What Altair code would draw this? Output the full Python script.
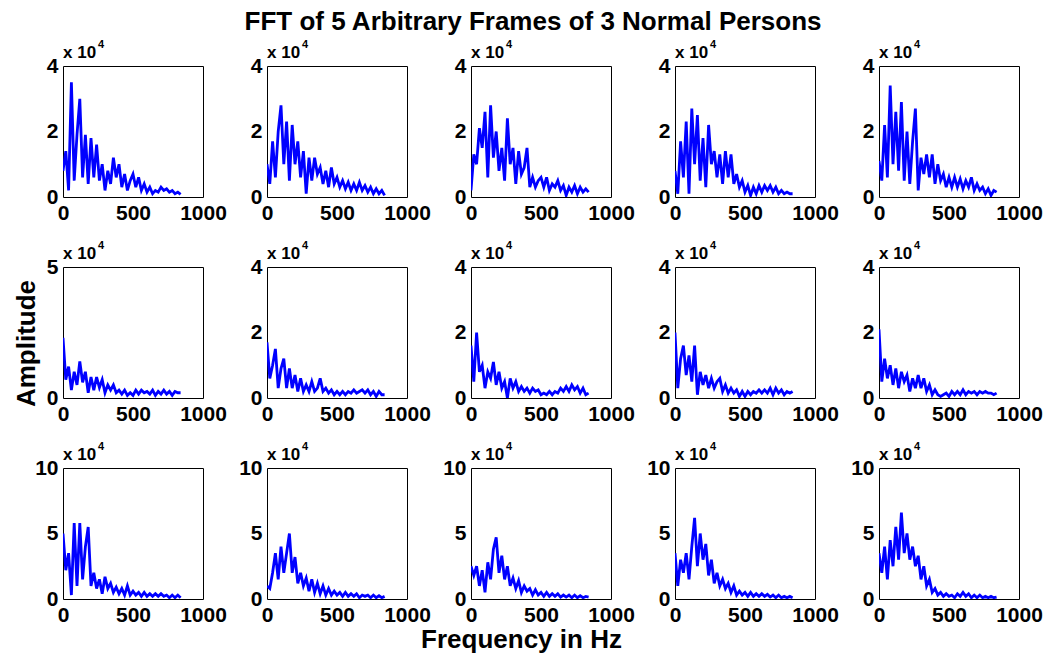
import altair as alt
import pandas as pd

# Frequency bins (Hz)
FREQ = list(range(0, 860, 20))

# Amplitudes in units of 10^4 (row, column)
R1C1 = [0.8, 1.4, 0.2, 3.5, 0.5, 1.9, 3.0, 0.6, 1.9, 0.4, 1.8, 0.6, 1.6, 0.5, 1.0, 0.2, 0.8, 0.4, 1.2, 0.6, 1.0, 0.3,
        0.7, 0.2, 0.5, 0.7, 0.3, 0.6, 0.2, 0.4, 0.15, 0.3, 0.1, 0.2, 0.15, 0.3, 0.2, 0.25, 0.15, 0.2, 0.1, 0.15, 0.08]
R1C2 = [1.0, 0.4, 1.7, 0.6, 2.0, 2.8, 1.0, 2.3, 0.5, 2.2, 1.0, 1.7, 0.6, 1.4, 0.1, 1.2, 0.5, 1.2, 0.7, 0.9, 0.4, 0.8,
        0.3, 0.9, 0.4, 0.6, 0.3, 0.5, 0.25, 0.45, 0.2, 0.4, 0.2, 0.45, 0.2, 0.35, 0.15, 0.3, 0.1, 0.25, 0.1, 0.2, 0.05]
R1C3 = [0.2, 1.3, 1.0, 2.1, 1.5, 2.6, 0.6, 2.8, 1.2, 2.0, 0.8, 1.5, 0.5, 2.4, 1.0, 1.5, 0.4, 1.4, 0.7, 0.9, 1.5, 0.3,
        0.6, 0.3, 0.5, 0.6, 0.3, 0.6, 0.2, 0.4, 0.3, 0.5, 0.2, 0.35, 0.05, 0.3, 0.15, 0.35, 0.1, 0.3, 0.15, 0.25, 0.15]
R1C4 = [0.8, 0.1, 1.7, 0.6, 2.3, 0.1, 2.7, 1.0, 2.5, 0.5, 1.8, 0.3, 2.2, 1.0, 1.4, 0.6, 1.3, 0.4, 1.4, 0.6, 1.3, 0.4,
        0.7, 0.3, 0.5, 0.15, 0.35, 0.05, 0.3, 0.1, 0.35, 0.15, 0.35, 0.2, 0.35, 0.15, 0.3, 0.1, 0.2, 0.1, 0.15, 0.1, 0.1]
R1C5 = [1.1, 0.5, 2.2, 0.6, 3.4, 1.0, 2.6, 0.8, 2.9, 0.5, 2.0, 0.4, 1.7, 2.7, 0.2, 1.2, 0.7, 1.3, 0.6, 1.3, 0.4, 1.0,
        0.5, 0.7, 0.3, 0.6, 0.3, 0.6, 0.3, 0.55, 0.25, 0.5, 0.3, 0.6, 0.2, 0.4, 0.2, 0.3, 0.1, 0.25, 0.05, 0.2, 0.15]

R2C1 = [2.3, 0.7, 1.2, 0.3, 1.0, 0.5, 1.4, 0.6, 1.0, 0.2, 0.8, 0.3, 0.8, 0.4, 0.7, 0.2, 0.5, 0.3, 0.5, 0.2, 0.3, 0.15,
        0.3, 0.1, 0.2, 0.1, 0.3, 0.15, 0.3, 0.2, 0.25, 0.15, 0.3, 0.1, 0.25, 0.15, 0.3, 0.15, 0.25, 0.1, 0.25, 0.2, 0.2]
R2C2 = [1.7, 0.6, 1.0, 1.5, 0.3, 0.9, 1.2, 0.3, 0.9, 0.3, 0.7, 0.2, 0.6, 0.2, 0.4, 0.2, 0.5, 0.2, 0.3, 0.6, 0.2, 0.3,
        0.15, 0.25, 0.1, 0.2, 0.1, 0.2, 0.1, 0.2, 0.15, 0.25, 0.15, 0.2, 0.25, 0.15, 0.25, 0.1, 0.2, 0.05, 0.2, 0.1, 0.1]
R2C3 = [1.6, 0.5, 2.0, 0.8, 1.0, 0.3, 0.8, 0.6, 1.1, 0.4, 0.8, 0.3, 0.5, 0.0, 0.6, 0.3, 0.5, 0.2, 0.35, 0.2, 0.3, 0.15,
        0.3, 0.2, 0.25, 0.1, 0.15, 0.1, 0.2, 0.1, 0.2, 0.15, 0.3, 0.2, 0.35, 0.2, 0.4, 0.25, 0.35, 0.15, 0.3, 0.1, 0.15]
R2C4 = [2.0, 0.3, 1.2, 1.6, 0.7, 1.3, 0.5, 1.6, 0.1, 0.8, 0.4, 0.7, 0.3, 0.6, 0.3, 0.5, 0.6, 0.2, 0.4, 0.15, 0.3, 0.15,
        0.25, 0.05, 0.2, 0.05, 0.2, 0.1, 0.2, 0.15, 0.25, 0.15, 0.25, 0.15, 0.3, 0.1, 0.3, 0.15, 0.25, 0.1, 0.2, 0.15, 0.2]
R2C5 = [2.1, 0.5, 1.2, 0.6, 1.0, 0.4, 0.9, 0.3, 0.8, 0.5, 0.7, 0.2, 0.6, 0.3, 0.7, 0.3, 0.6, 0.2, 0.4, 0.1, 0.25, 0.1,
        0.05, 0.1, 0.15, 0.05, 0.2, 0.1, 0.2, 0.1, 0.25, 0.1, 0.2, 0.15, 0.2, 0.1, 0.2, 0.15, 0.2, 0.15, 0.15, 0.1, 0.15]

R3C1 = [5.0, 2.2, 3.5, 0.3, 5.8, 1.0, 5.8, 1.5, 4.0, 5.5, 1.0, 2.0, 0.8, 1.5, 0.4, 1.7, 0.8, 1.2, 0.5, 0.9, 0.4, 0.8,
        0.3, 1.0, 0.3, 0.6, 0.3, 0.5, 0.2, 0.5, 0.2, 0.4, 0.2, 0.4, 0.2, 0.4, 0.2, 0.3, 0.1, 0.3, 0.1, 0.3, 0.1]
R3C2 = [1.0, 0.8, 2.0, 3.5, 1.5, 4.0, 2.0, 3.5, 5.0, 2.0, 3.2, 1.2, 2.0, 1.0, 1.6, 0.6, 1.5, 0.5, 1.2, 0.4, 1.0, 0.3,
        0.8, 0.3, 0.6, 0.3, 0.5, 0.2, 0.5, 0.2, 0.4, 0.2, 0.4, 0.1, 0.3, 0.2, 0.3, 0.1, 0.3, 0.1, 0.25, 0.1, 0.2]
R3C3 = [2.5, 1.8, 2.5, 1.0, 2.2, 0.5, 2.8, 1.5, 3.8, 4.7, 2.0, 3.3, 1.5, 2.5, 1.0, 1.6, 0.8, 1.4, 0.5, 1.0, 0.6, 0.8,
        0.3, 0.7, 0.3, 0.5, 0.2, 0.5, 0.2, 0.4, 0.2, 0.4, 0.15, 0.3, 0.15, 0.3, 0.1, 0.3, 0.1, 0.25, 0.1, 0.2, 0.15]
R3C4 = [3.5, 1.0, 3.0, 2.0, 3.5, 1.5, 4.0, 6.2, 2.5, 5.0, 3.0, 4.2, 1.8, 3.0, 1.2, 2.0, 1.0, 1.5, 0.8, 1.2, 0.5, 1.0,
        0.3, 0.6, 0.3, 0.5, 0.2, 0.5, 0.2, 0.4, 0.2, 0.4, 0.2, 0.35, 0.15, 0.3, 0.1, 0.3, 0.1, 0.2, 0.1, 0.2, 0.1]
R3C5 = [3.5, 2.0, 4.0, 1.5, 4.5, 2.5, 5.5, 3.0, 6.6, 3.5, 5.0, 3.0, 4.0, 2.5, 3.3, 1.5, 2.5, 1.0, 1.5, 0.5, 0.8, 0.3,
        0.5, 0.2, 0.4, 0.2, 0.3, 0.1, 0.4, 0.2, 0.5, 0.2, 0.4, 0.1, 0.3, 0.1, 0.3, 0.1, 0.2, 0.1, 0.2, 0.1, 0.15]

SERIES = [[R1C1, R1C2, R1C3, R1C4, R1C5],
          [R2C1, R2C2, R2C3, R2C4, R2C5],
          [R3C1, R3C2, R3C3, R3C4, R3C5]]
YMAX = [[4, 4, 4, 4, 4],
        [5, 4, 4, 4, 4],
        [10, 10, 10, 10, 10]]
YTICKS = {4: [0, 2, 4], 5: [0, 5], 10: [0, 5, 10]}
XTICKS = [0, 500, 1000]

TITLE = "FFT of 5 Arbitrary Frames of 3 Normal Persons"
XLABEL = "Frequency in Hz"
YLABEL = "Amplitude"
MULT = "x 10"
EXPO = "4"

FONT = "Liberation Sans"
W, H = 140, 131


def panel(r, c):
    vals = SERIES[r][c]
    ymax = YMAX[r][c]
    df = pd.DataFrame({"f": FREQ, "a": vals})

    if r == 2 and c == 2:
        xaxis = alt.Axis(values=XTICKS, format="d", title=XLABEL, titleX=50, titleY=48,
                         titleBaseline="alphabetic", titleAlign="center")
    else:
        xaxis = alt.Axis(values=XTICKS, format="d", title=None)
    if r == 1 and c == 0:
        yaxis = alt.Axis(values=YTICKS[ymax], format="d", title=YLABEL, titleX=-37, titleY=76,
                         titleAngle=270, titleBaseline="middle", titleAlign="center")
    else:
        yaxis = alt.Axis(values=YTICKS[ymax], format="d", title=None)

    line = alt.Chart(df).mark_line(color="#0000FF", strokeWidth=2.8, clip=True).encode(
        x=alt.X("f:Q", scale=alt.Scale(domain=[0, 1000], nice=False), axis=xaxis),
        y=alt.Y("a:Q", scale=alt.Scale(domain=[0, ymax], nice=False), axis=yaxis),
    )
    mult = alt.Chart(pd.DataFrame({"t": [MULT]})).mark_text(
        align="left", baseline="alphabetic", font=FONT, fontSize=17, fontWeight="bold", color="black"
    ).encode(text="t:N", x=alt.value(0), y=alt.value(-8))
    expo = alt.Chart(pd.DataFrame({"t": [EXPO]})).mark_text(
        align="left", baseline="alphabetic", font=FONT, fontSize=11, fontWeight="bold", color="black"
    ).encode(text="t:N", x=alt.value(35), y=alt.value(-18))
    layers = [line, mult, expo]
    if r == 0 and c == 2:
        title = alt.Chart(pd.DataFrame({"t": [TITLE]})).mark_text(
            align="center", baseline="alphabetic", font=FONT, fontSize=26, fontWeight="bold", color="black"
        ).encode(text="t:N", x=alt.value(62), y=alt.value(-36))
        layers.append(title)
    return alt.layer(*layers).properties(width=W, height=H)


panels = [panel(r, c) for r in range(3) for c in range(5)]

chart = alt.concat(*panels, columns=5, spacing={"row": 70, "column": 64}, bounds="flush").configure_view(
    stroke="black", strokeWidth=1
).configure_axis(
    domain=False, grid=False, ticks=False, labelFlush=False,
    labelFont=FONT, labelFontSize=21, labelFontWeight="bold", labelColor="black", labelPadding=5,
    titleFont=FONT, titleFontSize=26, titleFontWeight="bold", titleColor="black",
).properties(
    padding={"left": 12, "top": 8, "right": 0, "bottom": 0}, background="white"
)

chart.save("out.html", embed_options={"renderer": "svg", "actions": False})
